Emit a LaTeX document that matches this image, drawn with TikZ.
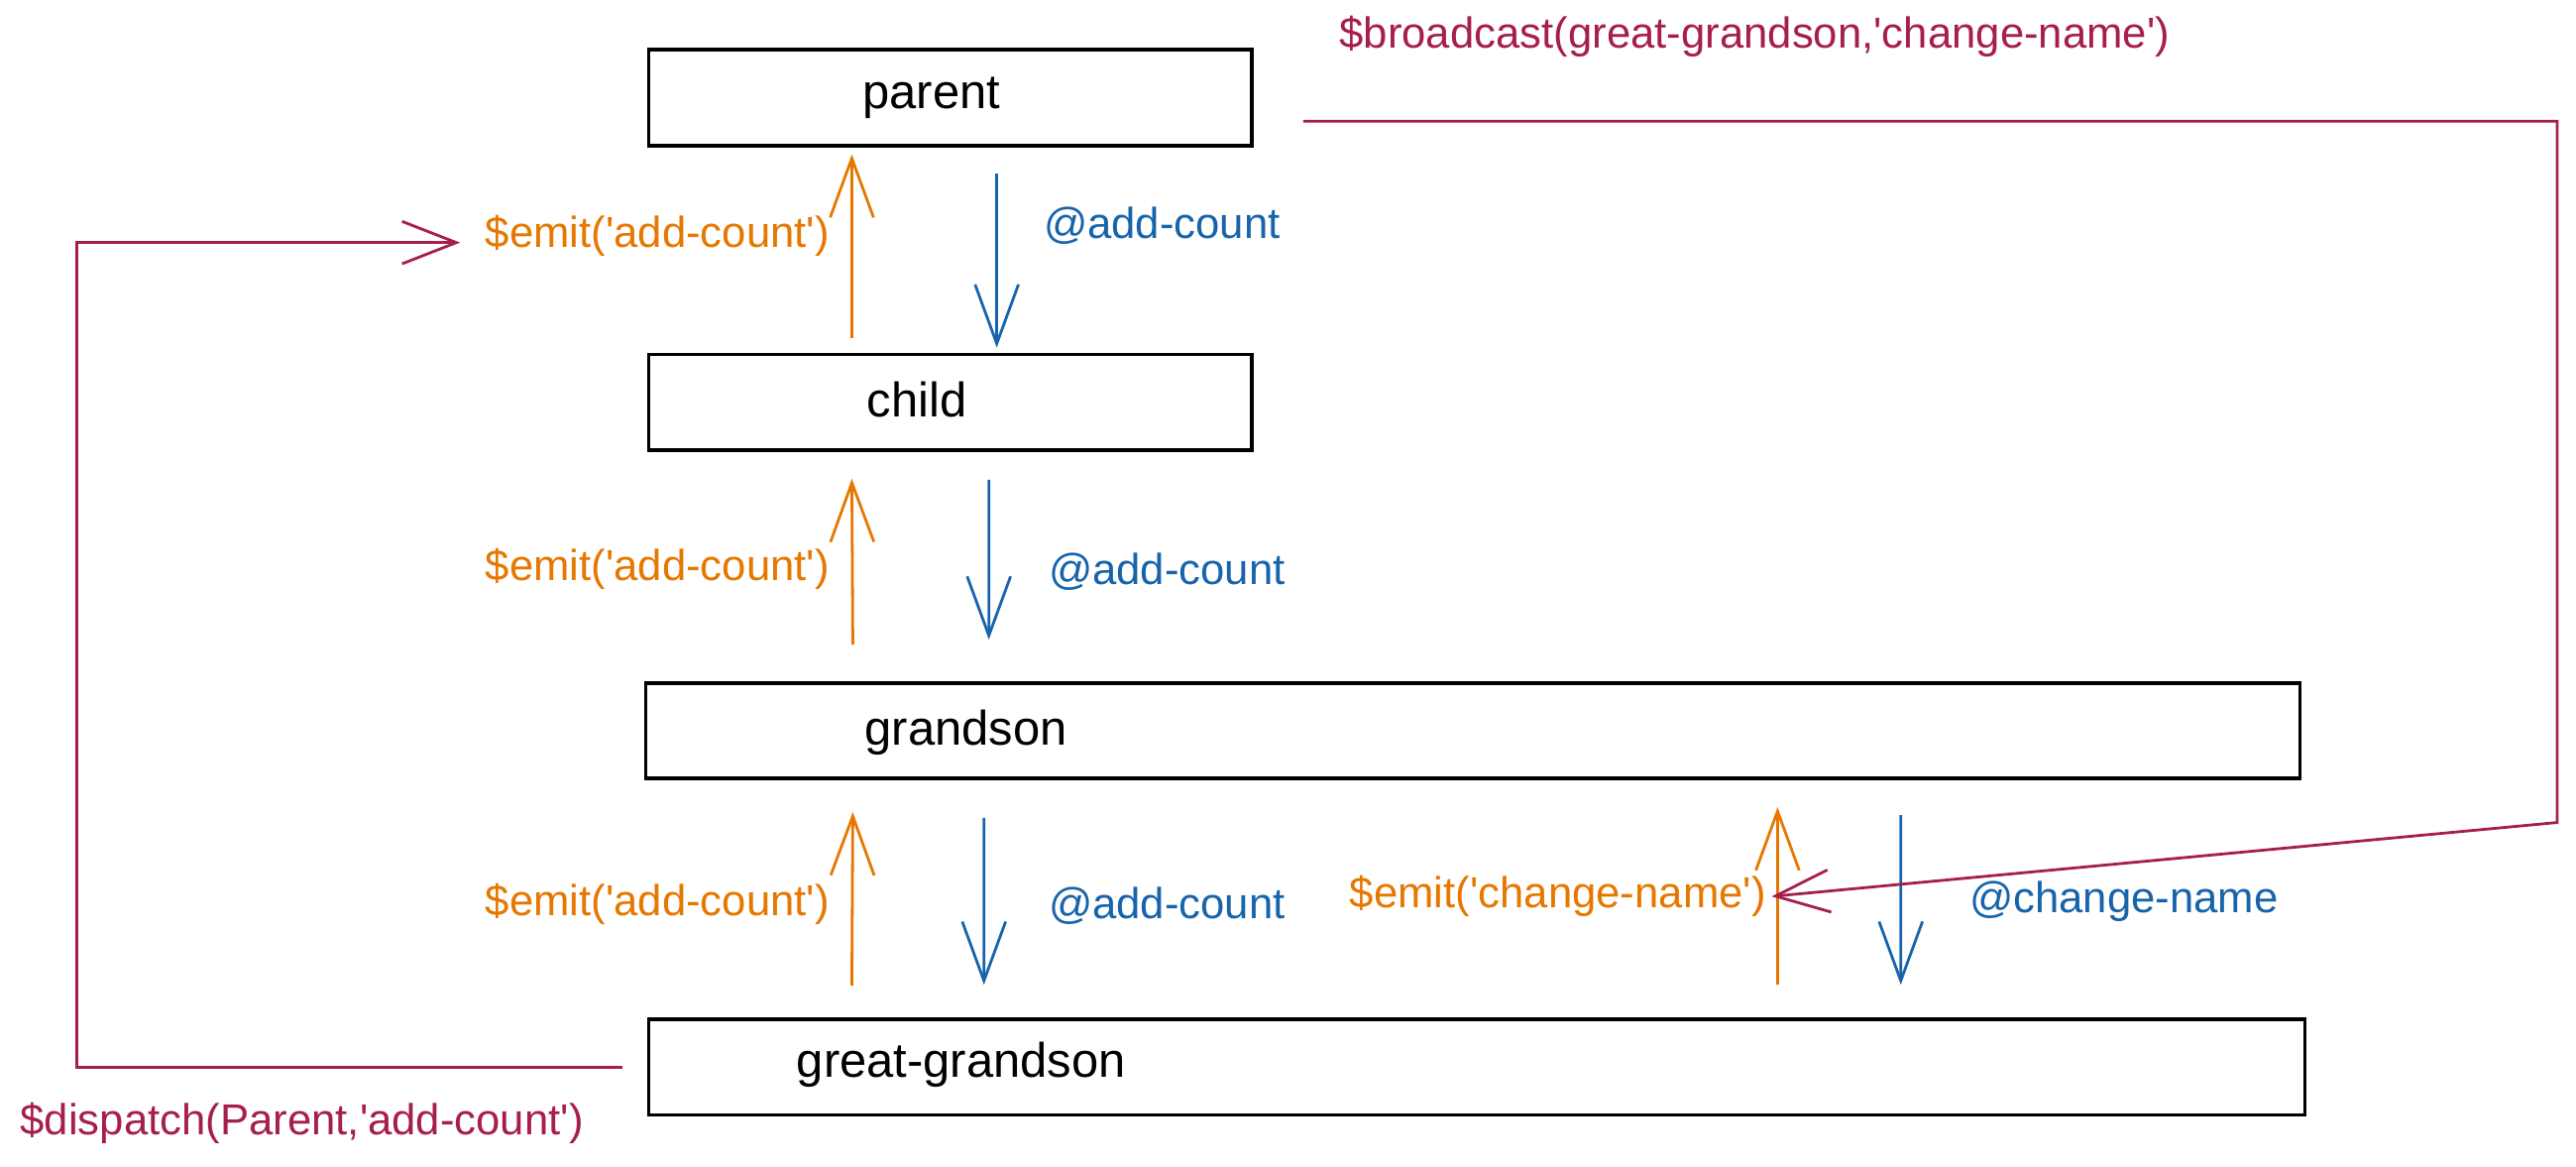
\documentclass[tikz,border=0pt]{standalone}
\usepackage{fontspec}
\setmainfont{Liberation Sans}
\usetikzlibrary{arrows.meta}
\definecolor{emitorange}{HTML}{E67700}
\definecolor{onblue}{HTML}{1864AB}
\definecolor{busred}{HTML}{A61E4D}

\begin{document}
\begin{tikzpicture}[
  box/.style={draw,line width=1.1pt,minimum height=0.97cm,inner sep=0pt},
  boxtext/.style={font=\fontsize{14}{16}\selectfont},
  lbl/.style={font=\fontsize{12.5}{15}\selectfont,inner sep=0pt},
  v/.style={line width=0.8pt,-{Straight Barb[length=0.6cm,width=0.44cm]}},
  emit/.style={v,emitorange},
  on/.style={v,onblue},
  bus/.style={line width=0.8pt,busred,-{Straight Barb[length=0.55cm,width=0.43cm]}}
]
\useasboundingbox (0,0) rectangle (26.13,11.83);

\node[box,minimum width=6.12cm] (parent) at (9.64,10.84) {};
\node[box,minimum width=6.12cm] (child) at (9.64,7.75) {};
\node[box,minimum width=16.78cm] (grandson) at (14.94,4.42) {};
\node[box,minimum width=16.8cm] (ggson) at (14.98,1.01) {};

\node[boxtext] (parenttxt) at (9.45,10.84) {parent};
\node[boxtext] (childtxt) at (9.3,7.78) {child};
\node[boxtext] (grandsontxt) at (9.8,4.40) {grandson};
\node[boxtext] (ggsontxt) at (9.75,1.03) {great-grandson};

\draw[emit] ([shift={(2.08,0.15)}]child.north west) -- ([shift={(2.08,-0.07)}]parent.south west);
\draw[on] ([shift={(3.55,-0.27)}]parent.south west) -- ([shift={(3.55,0.05)}]child.north west);
\draw[emit] ([shift={(2.12,0.37)}]grandson.north west) -- ([shift={(2.08,-0.27)}]child.south west);
\draw[on] ([shift={(3.47,-0.28)}]child.south west) -- ([shift={(3.5,0.42)}]grandson.north west);
\draw[emit] ([shift={(2.08,0.32)}]ggson.north west) -- ([shift={(2.12,-0.32)}]grandson.south west);
\draw[on] ([shift={(3.45,-0.38)}]grandson.south west) -- ([shift={(3.42,0.33)}]ggson.north west);
\draw[emit] ([shift={(11.47,0.33)}]ggson.north west) -- ([shift={(11.5,-0.27)}]grandson.south west);
\draw[on] ([shift={(12.75,-0.35)}]grandson.south west) -- ([shift={(12.72,0.33)}]ggson.north west);

\node[lbl,emitorange,anchor=east] (emit1) at (8.42,9.44) {\$emit(\textquotesingle add-count\textquotesingle)};
\node[lbl,emitorange,anchor=east] (emit2) at (8.42,6.06) {\$emit(\textquotesingle add-count\textquotesingle)};
\node[lbl,emitorange,anchor=east] (emit3) at (8.42,2.66) {\$emit(\textquotesingle add-count\textquotesingle)};
\node[lbl,emitorange,anchor=east] (emit4) at (17.92,2.74) {\$emit(\textquotesingle change-name\textquotesingle)};
\node[lbl,onblue,anchor=west] (on1) at (10.58,9.54) {@add-count};
\node[lbl,onblue,anchor=west] (on2) at (10.63,6.03) {@add-count};
\node[lbl,onblue,anchor=west] (on3) at (10.63,2.64) {@add-count};
\node[lbl,onblue,anchor=west] (on4) at (19.97,2.69) {@change-name};
\node[lbl,busred,anchor=west] (bcast) at (13.58,11.46) {\$broadcast(great-grandson,\textquotesingle change-name\textquotesingle)};
\node[lbl,busred,anchor=west] (dispatch) at (0.2,0.44) {\$dispatch(Parent,\textquotesingle add-count\textquotesingle)};

\coordinate (bcstart) at ([shift={(0.5,-0.24)}]parent.east);
\coordinate (dstart) at ([xshift=-0.25cm]ggson.west);
\draw[bus] (bcstart) -- ++(12.72,0) -- ++(0,-7.11) -- ([xshift=0.05cm]emit4.east);
\draw[bus] (dstart) -- ++(-5.53,0) |- ([shift={(-0.25,-0.07)}]emit1.west);

\end{tikzpicture}
\end{document}
